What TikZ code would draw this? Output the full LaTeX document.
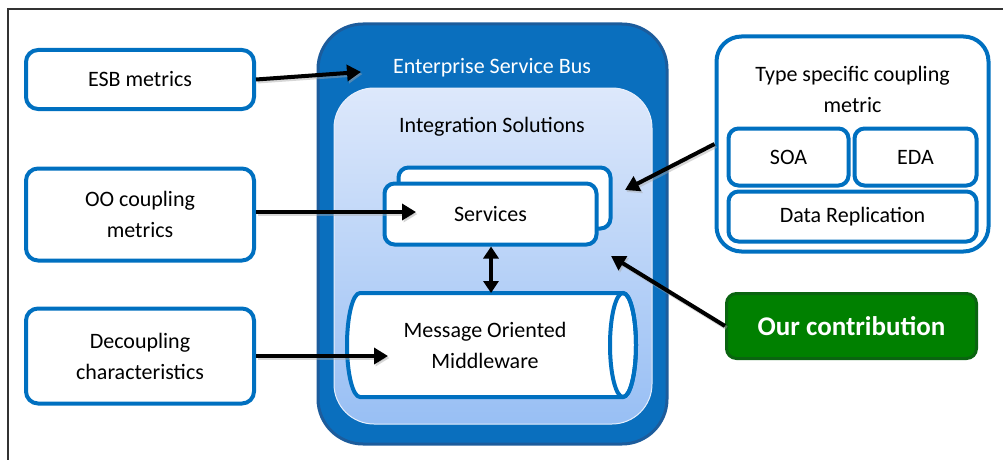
\documentclass[tikz,border=0pt]{standalone}
\usepackage{fontspec}
\setmainfont{Carlito}
\usetikzlibrary{arrows.meta}
\definecolor{msblue}{HTML}{0070C0}
\definecolor{busfill}{HTML}{0A6FBE}
\definecolor{busedge}{HTML}{1C5C9C}
\definecolor{intop}{HTML}{DDE8FB}
\definecolor{inbot}{HTML}{98BFF4}
\definecolor{ourfill}{HTML}{008000}
\definecolor{ouredge}{HTML}{0A6410}
\tikzset{
  txt/.style={font=\fontsize{22}{31}\selectfont, align=center, text=black},
  metricbox/.style={draw=msblue, line width=4pt, fill=white, rounded corners=12pt,
    inner sep=0pt, txt},
  innerbox/.style={draw=msblue, line width=4pt, fill=white, rounded corners=10pt,
    inner sep=0pt, txt},
  flow/.style={line width=4pt, black,
    -{Triangle[length=14pt,width=16pt]},
    preaction={draw=black!35, opacity=0.45, line width=4pt,
      transform canvas={shift={(1.5pt,-2pt)}}}},
  both/.style={line width=4pt, black,
    {Triangle[length=12pt,width=15pt]}-{Triangle[length=12pt,width=15pt]}},
}
\begin{document}
\begin{tikzpicture}[x=1pt,y=-1pt]
\useasboundingbox (0,0) rectangle (1003,460);
% page frame
\draw[line width=1.5pt, black!80] (8,460) -- (8,9) -- (1003,9);

% left-hand metric families
\node[metricbox, minimum width=228pt, minimum height=59pt] (esbm) at (140,79.5) {ESB metrics};
\node[metricbox, minimum width=228pt, minimum height=92pt] (oo) at (140,214.5) {OO coupling\\metrics};
\node[metricbox, minimum width=228pt, minimum height=95pt] (dec) at (140,356) {Decoupling\\characteristics};

% the bus and its integration layer
\node[draw=busedge, fill=busfill, line width=3pt, rounded corners=45pt,
  minimum width=349pt, minimum height=420pt, inner sep=0pt] (esb) at (492.5,234) {};
\node[draw=intop!70!white, line width=1pt, top color=intop, bottom color=inbot,
  rounded corners=40pt, minimum width=318pt, minimum height=336pt, inner sep=0pt]
  (integ) at (493,256) {};
\node[txt, text=white] (esbtitle) at (492,68) {Enterprise Service Bus};
\node[txt] (integtitle) at (492,127) {Integration Solutions};

% stacked service boxes
\node[innerbox, minimum width=212pt, minimum height=61pt] (svcback) at (504.5,198) {};
\node[innerbox, minimum width=212pt, minimum height=61pt] (svc) at (490.5,214) {Services};

% message oriented middleware drawn as a lying cylinder
\filldraw[draw=msblue, fill=white, line width=4pt]
  (623,293) -- (360,293) arc[start angle=270, end angle=90, x radius=13, y radius=52]
  -- (623,397) arc[start angle=90, end angle=-90, x radius=13, y radius=52] -- cycle;
\draw[msblue, line width=4pt] (623,345) ellipse[x radius=13, y radius=52];
\node[txt] (mom) at (485,345.5) {Message Oriented\\Middleware};
\coordinate (momtop) at (491,293);

% type specific coupling metric group
\node[draw=msblue, line width=4pt, fill=white, rounded corners=25pt,
  minimum width=272pt, minimum height=215pt, inner sep=0pt] (tsc) at (852.5,144) {};
\node[txt] (tsctitle) at (852.5,89) {Type specific coupling\\metric};
\node[innerbox, minimum width=120pt, minimum height=57pt] (soa) at (788.5,157) {SOA};
\node[innerbox, minimum width=122pt, minimum height=57pt] (eda) at (915.5,157) {EDA};
\node[innerbox, minimum width=248pt, minimum height=50pt] (drep) at (852.5,216.5) {Data Replication};

% contribution badge
\node[draw=ouredge, fill=ourfill, line width=3pt, rounded corners=10pt,
  minimum width=250pt, minimum height=65pt, inner sep=0pt, text=white,
  font=\fontsize{27}{31}\selectfont\bfseries] (our) at (851.5,326) {Our contribution};

% arrow end points
\coordinate (esbin) at (361,72);
\coordinate (svcin) at (416,212);
\coordinate (momin) at (388,356);
\coordinate (tscin) at (625,190);
\coordinate (ourin) at (611,256);

% connectors
\draw[flow] (esbm.east) -- (esbin);
\draw[flow] (oo.east |- svcin) -- (svcin);
\draw[flow] (dec.east) -- (momin);
\draw[flow] (tsc.west) -- (tscin);
\draw[flow] (our.west) -- (ourin);
\draw[both] (svc.south -| momtop) -- (momtop);
\end{tikzpicture}
\end{document}
